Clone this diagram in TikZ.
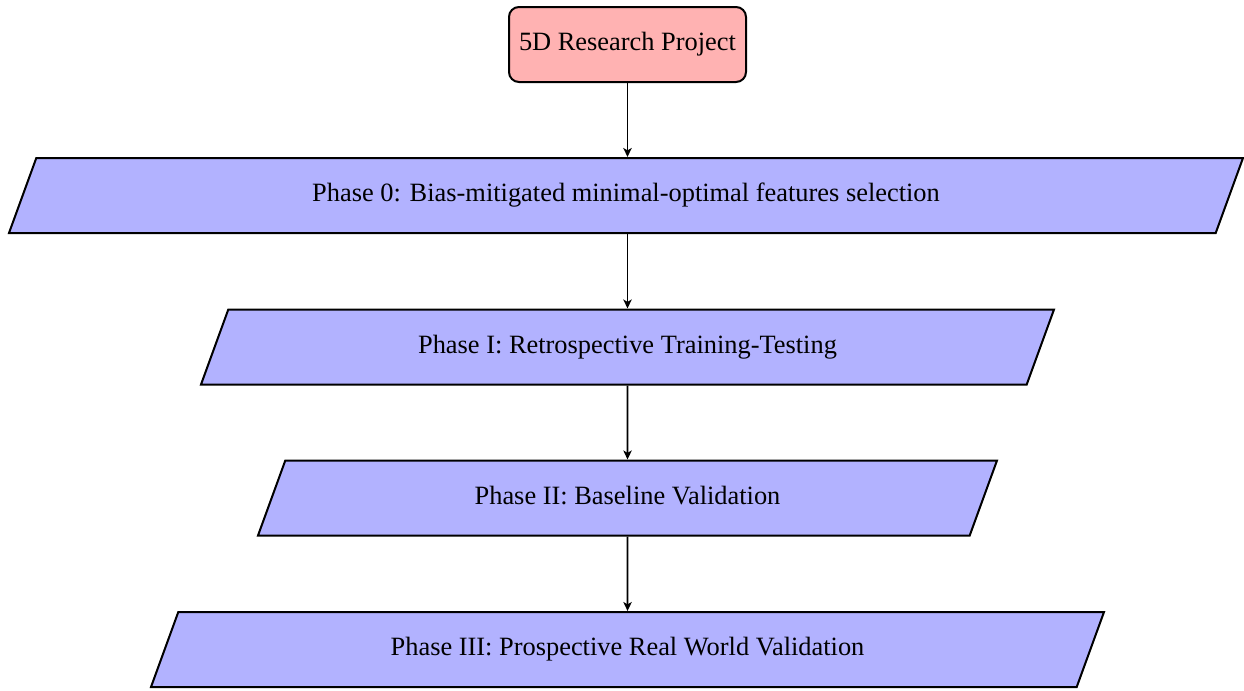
\documentclass[tikz,border=0pt]{standalone}
\usepackage{fontspec}
\setmainfont{Liberation Serif}
\usetikzlibrary{shapes.geometric,arrows.meta}
\tikzset{
  boxfont/.style={font=\fontsize{13.2}{15.8}\selectfont},
  startbox/.style={boxfont, draw=black, line width=1pt, fill=red!30, rounded corners=5pt,
    minimum width=118.5pt, minimum height=37.5pt, inner sep=2pt},
  phasebox/.style={boxfont, trapezium, trapezium left angle=70, trapezium right angle=110,
    trapezium stretches body, draw=black, line width=1pt, fill=blue!30,
    text height=9pt, text depth=3pt, inner ysep=12.75pt, inner xsep=2pt},
  flowarrow/.style={-{Stealth[length=4.5pt,width=4.2pt,inset=1.2pt]}, line width=0.85pt, black},
}
\begin{document}
\begin{tikzpicture}[x=0.5pt, y=-0.5pt]
\useasboundingbox (0,0) rectangle (1244,691);
\node[startbox] (top) at (627.5,44.5) {5D Research Project};
\node[phasebox, minimum width=617pt] (p0) at (626,195.5) {Phase 0: Bias-mitigated minimal-optimal features selection};
\node[phasebox, minimum width=426.5pt] (p1) at (627.5,347) {Phase I: Retrospective Training-Testing};
\node[phasebox, minimum width=369.5pt] (p2) at (627.5,498) {Phase II: Baseline Validation};
\node[phasebox, minimum width=476.5pt] (p3) at (627.5,649.5) {Phase III: Prospective Real World Validation};
\draw[flowarrow] (top.south) -- (top.south |- p0.north);
\draw[flowarrow] (top.south |- p0.south) -- (top.south |- p1.north);
\draw[flowarrow] (p1.south) -- (p2.north);
\draw[flowarrow] (p2.south) -- (p3.north);
\end{tikzpicture}
\end{document}
